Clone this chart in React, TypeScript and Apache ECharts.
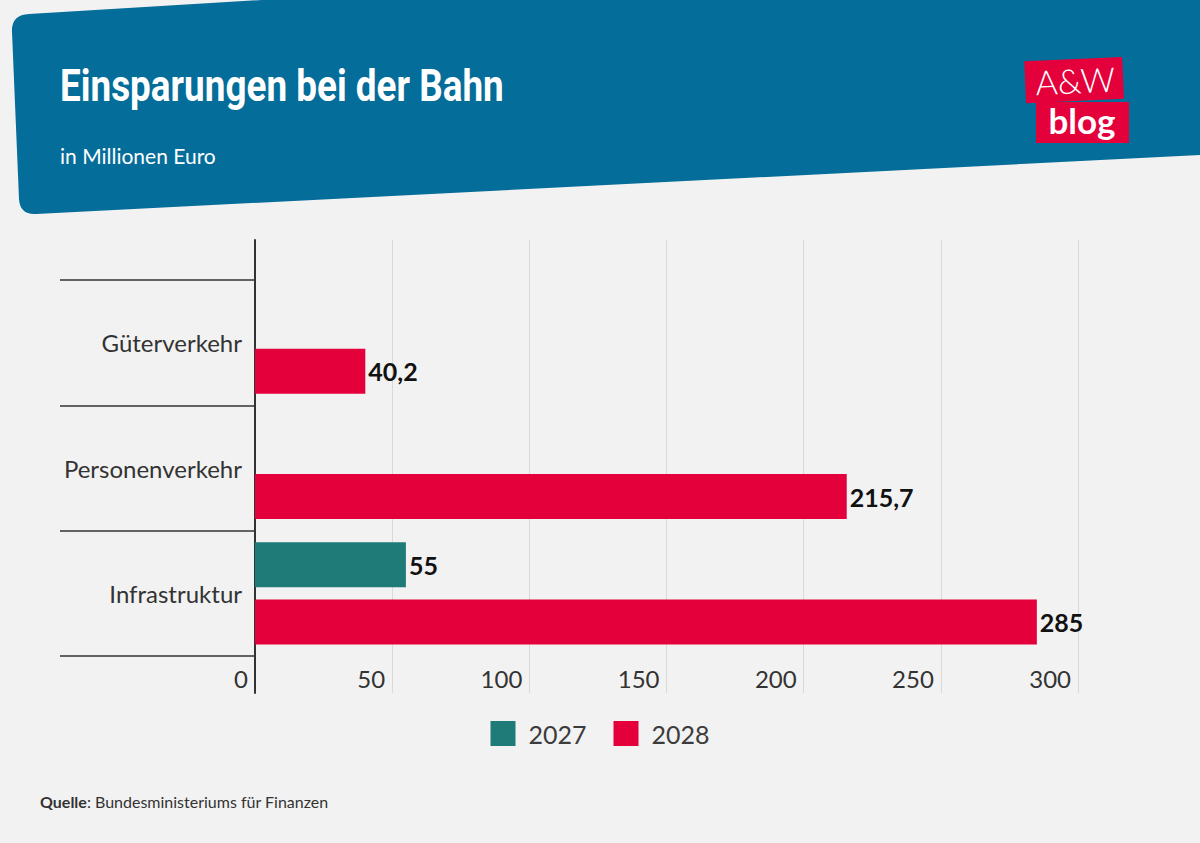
import React, { useEffect, useRef } from "react";
import * as echarts from "echarts";

// Einsparungen bei der Bahn, in Millionen Euro
const categories = ["Güterverkehr", "Personenverkehr", "Infrastruktur"];
const years = ["2027", "2028"];
const values2027: (number | null)[] = [null, null, 55];
const values2028: (number | null)[] = [40.2, 215.7, 285];
const xTicks = [0, 50, 100, 150, 200, 250, 300];

const BLUE = "#046d9a";
const RED = "#e4003a";
const TEAL = "#1e7b78";
const BG = "#f2f2f2";
const FONT = "Lato, 'Noto Sans', sans-serif";
const TITLE_FONT = "Roboto, sans-serif";

// header banner outline with rounded left corners
echarts.graphic.registerShape(
  "banner",
  echarts.graphic.extendPath(
    "M 12 32 Q 11 15 29 14 L 262 0 L 1200 0 L 1200 155 L 36 214 Q 20 215 19 199 Z",
    {}
  )
);

const fmt = (v: number) => String(v).replace(".", ",");

export default function App() {
  const ref = useRef<HTMLDivElement>(null);

  useEffect(() => {
    document.body.style.margin = "0";
    document.body.style.background = BG;
    const chart = echarts.init(ref.current!, null, { renderer: "svg" });
    const valueLabel = {
      show: true,
      position: "right",
      distance: 3,
      fontSize: 25,
      fontWeight: "bold",
      color: "#111111",
      fontFamily: FONT,
      formatter: (p: any) => fmt(p.value),
    };
    chart.setOption({
      animation: false,
      backgroundColor: BG,
      textStyle: { fontFamily: FONT },
      grid: [
        { left: 255, right: 122, top: 240, bottom: 150 },
        { left: 255, right: 122, top: 280, bottom: 187 },
      ],
      xAxis: [
        {
          gridIndex: 0,
          type: "value",
          min: xTicks[0],
          max: xTicks[xTicks.length - 1],
          interval: xTicks[1] - xTicks[0],
          axisLine: { show: false },
          axisTick: { show: false },
          splitLine: { show: true, lineStyle: { color: "#d9d9d9", width: 1 } },
          axisLabel: {
            inside: true,
            margin: 15,
            align: "right",
            verticalAlign: "middle",
            padding: [0, 7, 0, 0],
            fontSize: 24,
            color: "#333333",
            fontFamily: FONT,
          },
        },
        {
          gridIndex: 1,
          type: "value",
          min: xTicks[0],
          max: xTicks[xTicks.length - 1],
          show: false,
        },
      ],
      yAxis: [
        {
          gridIndex: 0,
          type: "value",
          axisLine: { show: true, lineStyle: { color: "#333333", width: 2 } },
          axisTick: { show: false },
          axisLabel: { show: false },
          splitLine: { show: false },
        },
        {
          gridIndex: 1,
          type: "category",
          inverse: true,
          data: categories,
          axisLine: { show: false },
          axisTick: {
            show: true,
            length: 195,
            lineStyle: { color: "#333333", width: 1.5 },
          },
          axisLabel: {
            margin: 13,
            fontSize: 24,
            color: "#333333",
            fontFamily: FONT,
          },
        },
      ],
      legend: {
        data: years,
        left: "center",
        top: 716,
        icon: "rect",
        itemWidth: 25,
        itemHeight: 25,
        itemGap: 27,
        textStyle: {
          fontSize: 25,
          color: "#3c3c3c",
          fontFamily: FONT,
          padding: [0, 0, 0, 8],
        },
      },
      series: [
        {
          name: years[0],
          type: "bar",
          xAxisIndex: 1,
          yAxisIndex: 1,
          data: values2027,
          barWidth: 45,
          barGap: "27%",
          itemStyle: { color: TEAL },
          label: valueLabel,
        },
        {
          name: years[1],
          type: "bar",
          xAxisIndex: 1,
          yAxisIndex: 1,
          data: values2028,
          barWidth: 45,
          barGap: "27%",
          itemStyle: { color: RED },
          label: valueLabel,
        },
      ],
      graphic: [
        { type: "banner", x: 0, y: 0, style: { fill: BLUE }, silent: true },
        {
          type: "text",
          x: 60,
          y: 86,
          scaleX: 0.82,
          style: {
            text: "Einsparungen bei der Bahn",
            fill: "#ffffff",
            font: `bold 45px ${TITLE_FONT}`,
            verticalAlign: "middle",
          },
        },
        {
          type: "text",
          x: 60,
          y: 155,
          style: {
            text: "in Millionen Euro",
            fill: "#ffffff",
            font: `21px ${FONT}`,
            verticalAlign: "middle",
          },
        },
        {
          type: "group",
          x: 1076,
          y: 100,
          rotation: 0.045,
          children: [
            {
              type: "rect",
              shape: { x: -50, y: -41, width: 98, height: 42 },
              style: { fill: RED },
            },
            {
              type: "text",
              x: 0,
              y: -20,
              style: {
                text: "A&W",
                fill: "#ffffff",
                font: `300 34px ${FONT}`,
                align: "center",
                verticalAlign: "middle",
              },
            },
          ],
        },
        {
          type: "group",
          x: 1082,
          y: 122,
          children: [
            {
              type: "rect",
              shape: { x: -46, y: -20, width: 93, height: 41 },
              style: { fill: RED },
            },
            {
              type: "text",
              x: 0,
              y: -2,
              style: {
                text: "blog",
                fill: "#ffffff",
                font: `bold 35px ${FONT}`,
                align: "center",
                verticalAlign: "middle",
              },
            },
          ],
        },
        {
          type: "text",
          x: 40,
          y: 801,
          style: {
            text: "{b|Quelle}: Bundesministeriums für Finanzen",
            fill: "#333333",
            font: `16px ${FONT}`,
            verticalAlign: "middle",
            rich: {
              b: { fontWeight: "bold", fontSize: 16, fill: "#333333", fontFamily: FONT },
            },
          },
        },
      ],
    });
    return () => chart.dispose();
  }, []);

  return <div ref={ref} style={{ width: 1200, height: 843 }} />;
}
